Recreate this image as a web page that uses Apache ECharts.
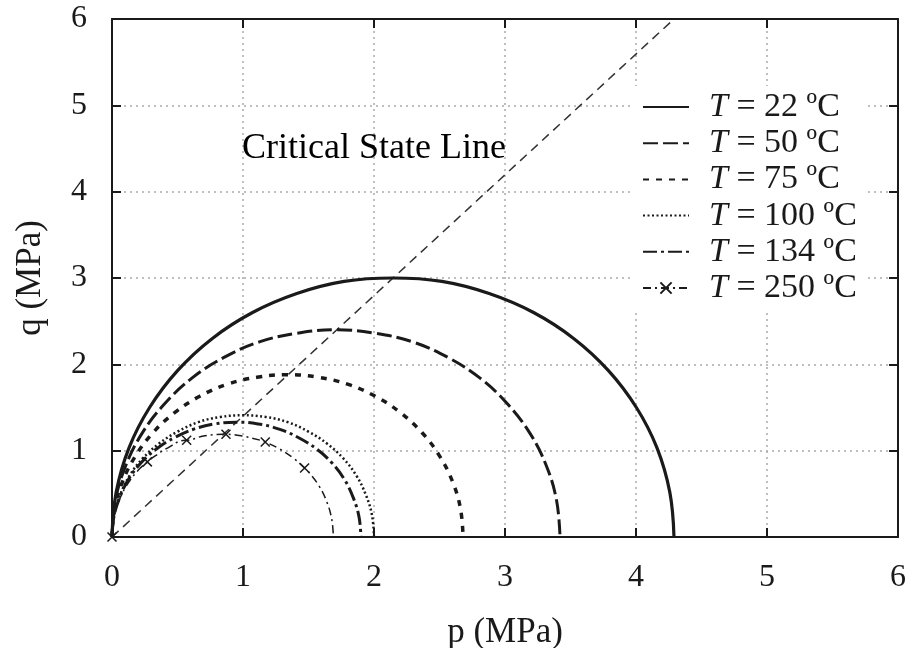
<!DOCTYPE html>
<html>
<head>
<meta charset="utf-8">
<script src="https://cdn.jsdelivr.net/npm/echarts@6/dist/echarts.min.js"></script>
<style>
  html, body { margin: 0; padding: 0; background: #fff; }
  #chart { width: 913px; height: 648px; }
</style>
</head>
<body>
<div id="chart"></div>
<script>
// yield surfaces, p and q in MPa
const p22 = [0, 0.032, 0.129, 0.287, 0.502, 0.766, 1.073, 1.411, 1.772, 2.145, 2.518, 2.879, 3.218, 3.524, 3.788, 4.003, 4.161, 4.258, 4.29]
const q22 = [0, 0.52, 1.03, 1.50, 1.93, 2.30, 2.60, 2.82, 2.96, 3.00, 2.96, 2.82, 2.60, 2.30, 1.93, 1.50, 1.03, 0.52, 0]
const p50 = [0, 0.026, 0.103, 0.229, 0.400, 0.610, 0.855, 1.125, 1.412, 1.71, 2.008, 2.295, 2.565, 2.810, 3.020, 3.191, 3.317, 3.394, 3.42]
const q50 = [0, 0.42, 0.82, 1.20, 1.54, 1.84, 2.08, 2.26, 2.36, 2.40, 2.36, 2.26, 2.08, 1.84, 1.54, 1.20, 0.82, 0.42, 0]
const p75 = [0, 0.020, 0.080, 0.180, 0.314, 0.478, 0.670, 0.882, 1.107, 1.34, 1.573, 1.798, 2.010, 2.202, 2.366, 2.500, 2.600, 2.660, 2.68]
const q75 = [0, 0.33, 0.64, 0.94, 1.21, 1.44, 1.63, 1.77, 1.85, 1.88, 1.85, 1.77, 1.63, 1.44, 1.21, 0.94, 0.64, 0.33, 0]
const p100 = [0, 0.015, 0.060, 0.134, 0.234, 0.357, 0.5, 0.658, 0.826, 1.0, 1.174, 1.342, 1.5, 1.643, 1.766, 1.866, 1.94, 1.985, 2.0]
const q100 = [0, 0.25, 0.48, 0.71, 0.91, 1.08, 1.22, 1.33, 1.39, 1.41, 1.39, 1.33, 1.22, 1.08, 0.91, 0.71, 0.48, 0.25, 0]
const p134 = [0, 0.014, 0.057, 0.127, 0.222, 0.339, 0.475, 0.625, 0.785, 0.95, 1.115, 1.275, 1.425, 1.561, 1.678, 1.773, 1.843, 1.886, 1.90]
const q134 = [0, 0.23, 0.45, 0.67, 0.86, 1.02, 1.15, 1.25, 1.31, 1.33, 1.31, 1.25, 1.15, 1.02, 0.86, 0.67, 0.45, 0.23, 0]
const p250 = [0.013, 0.051, 0.113, 0.198, 0.302, 0.423, 0.556, 0.698, 0.845, 0.992, 1.134, 1.268, 1.388, 1.492, 1.577, 1.639, 1.677, 1.69]
const q250 = [0.21, 0.41, 0.60, 0.77, 0.91, 1.03, 1.12, 1.17, 1.19, 1.17, 1.12, 1.03, 0.91, 0.77, 0.60, 0.41, 0.21, 0]
// cross markers on the 250 ºC curve
const p250m = [0, 0.27, 0.57, 0.87, 1.17, 1.47]
const q250m = [0, 0.87, 1.12, 1.19, 1.10, 0.80]
// critical state line
const cslP = [0, 4.29]
const cslQ = [0, 6]
const temps = [22, 50, 75, 100, 134, 250]

const FONT = 'Liberation Serif'
const INK = '#1a1a1a'

function pairs(ps, qs) {
  return ps.map((p, i) => [p, qs[i]])
}

let curve250 = p250.map((p, i) => ({ value: [p, q250[i]], symbol: 'none' }))
  .concat(p250m.map((p, i) => ({ value: [p, q250m[i]] })))
curve250.sort((a, b) => a.value[0] - b.value[0])

const styles = [
  { width: 3.2, type: 'solid' },
  { width: 3, type: [15, 5] },
  { width: 3.5, type: [6, 7] },
  { width: 2.5, type: [2, 2.5] },
  { width: 3, type: [14, 4, 3, 4] },
  { width: 1.5, type: [8, 4, 2, 4] },
]
const curves = [pairs(p22, q22), pairs(p50, q50), pairs(p75, q75), pairs(p100, q100), pairs(p134, q134), curve250]
const names = temps.map(t => 'T = ' + t + ' ºC')

function axisCommon(pos) {
  return {
    type: 'value',
    min: 0,
    max: 6,
    interval: 1,
    position: pos,
    axisLine: { show: true, onZero: false, lineStyle: { color: INK, width: 2 } },
    axisTick: { show: true, inside: true, length: 9, lineStyle: { color: INK, width: 2 } },
  }
}

let option = {
  animation: false,
  backgroundColor: '#fff',
  grid: { left: 112, right: 15, top: 19, bottom: 111, outerBoundsMode: 'none' },
  legend: {
    // only the 250 ºC entry keeps its marker in the key
    data: names.map((n, i) => i === 5 ? { name: n } : { name: n, itemStyle: { opacity: 0 } }),
    orient: 'vertical',
    left: 634,
    top: 86,
    itemWidth: 46,
    itemHeight: 14,
    itemGap: 2.2,
    backgroundColor: '#fff',
    padding: [4, 10, 4, 8],
    textStyle: { fontFamily: FONT, fontSize: 34, lineHeight: 34, color: INK, padding: [0, 0, 0, 15],
      rich: { i: { fontFamily: FONT, fontSize: 34, fontStyle: 'italic', color: INK } } },
    formatter: n => '{i|T}' + n.slice(1),
  },
  xAxis: [
    Object.assign(axisCommon('bottom'), {
      name: 'p (MPa)',
      nameLocation: 'middle',
      nameGap: 78,
      nameTextStyle: { fontFamily: FONT, fontSize: 35, color: INK },
      axisLabel: { fontFamily: FONT, fontSize: 32, color: INK, margin: 25 },
      splitLine: { show: true, lineStyle: { color: '#aaa', width: 1.5, type: [2, 4] } },
    }),
    Object.assign(axisCommon('top'), { axisLabel: { show: false }, splitLine: { show: false } }),
  ],
  yAxis: [
    Object.assign(axisCommon('left'), {
      name: 'q (MPa)',
      nameLocation: 'middle',
      nameGap: 64,
      nameTextStyle: { fontFamily: FONT, fontSize: 35, color: INK },
      axisLabel: { fontFamily: FONT, fontSize: 32, color: INK, margin: 25 },
      splitLine: { show: true, lineStyle: { color: '#aaa', width: 1.5, type: [2, 4] } },
    }),
    Object.assign(axisCommon('right'), { axisLabel: { show: false }, splitLine: { show: false } }),
  ],
  series: [
    {
      name: 'csl',
      type: 'line',
      data: pairs(cslP, cslQ),
      symbol: 'none',
      lineStyle: { color: '#333', width: 1.5, type: [9, 6] },
      z: 1,
    },
    {
      name: 'csl label',
      type: 'scatter',
      data: [[2.0, 4.5]],
      symbolSize: 0,
      itemStyle: { opacity: 1 },
      label: {
        show: true,
        position: 'inside',
        formatter: 'Critical State Line',
        fontFamily: FONT,
        fontSize: 36,
        color: '#000',
        opacity: 1,
      },
    },
  ].concat(curves.map((data, i) => ({
    name: names[i],
    type: 'line',
    data: data,
    smooth: 0.4,
    symbol: i === 5 ? 'path://M0,0L10,10M0,10L10,0' : 'none',
    symbolSize: 9,
    showSymbol: i === 5,
    showAllSymbol: true,
    itemStyle: { color: INK, borderColor: INK, borderWidth: 1.5 },
    lineStyle: { color: INK, width: styles[i].width, type: styles[i].type },
    z: 3,
  }))),
}

let chart = echarts.init(document.getElementById('chart'))
chart.setOption(option)
window.addEventListener('resize', function() {
  chart.resize()
})
</script>
</body>
</html>
